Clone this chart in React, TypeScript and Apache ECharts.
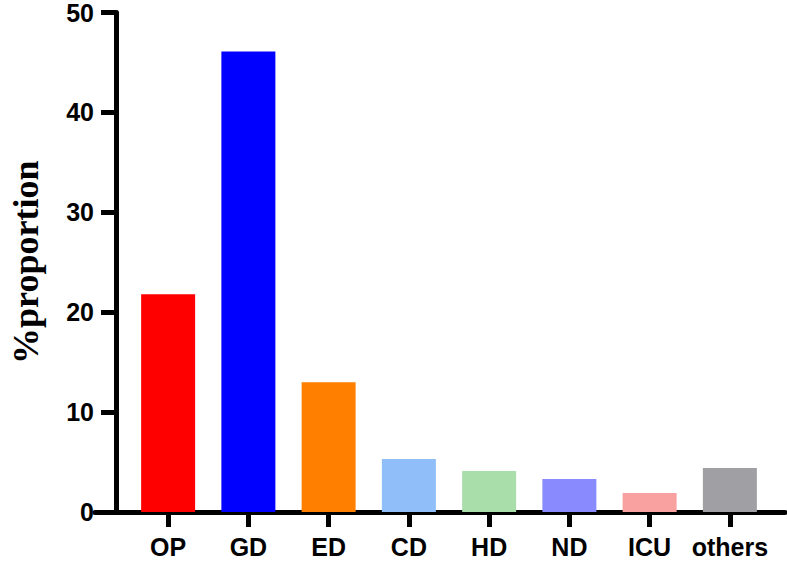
import React, { useEffect, useRef } from "react";
import * as echarts from "echarts";

const categories = ["OP", "GD", "ED", "CD", "HD", "ND", "ICU", "others"];
const values = [21.8, 46.1, 13.0, 5.3, 4.1, 3.3, 1.9, 4.4];
const barColors = ["#FF0000", "#0000FF", "#FF8000", "#8FBEF8", "#A9DEAA", "#8A8AFF", "#F9A1A1", "#A0A0A4"];
const yTicks = { min: 0, max: 50, interval: 10 };

export default function App() {
  const ref = useRef<HTMLDivElement>(null);
  useEffect(() => {
    if (!ref.current) return;
    const chart = echarts.init(ref.current, null, { renderer: "svg" });
    chart.setOption({
      animation: false,
      grid: [
        { left: 122, right: 17, top: 12.5, bottom: 50 },
        { left: 95, right: 2, top: 12.5, bottom: 50 },
      ],
      xAxis: [
        {
          type: "category",
          gridIndex: 0,
          data: categories,
          axisLine: { show: false },
          axisTick: { show: true, alignWithLabel: true, length: 15, lineStyle: { color: "#000", width: 5 } },
          axisLabel: {
            interval: 0,
            hideOverlap: false,
            color: "#000",
            fontFamily: "Liberation Sans, Arial, sans-serif",
            fontWeight: "bold",
            fontSize: 25,
            lineHeight: 25,
            margin: 22,
          },
        },
        {
          type: "value",
          gridIndex: 1,
          min: 0,
          max: 1,
          axisLine: { show: true, lineStyle: { color: "#000", width: 5 } },
          axisTick: { show: false },
          axisLabel: { show: false },
          splitLine: { show: false },
        },
      ],
      yAxis: [
        {
          type: "value",
          gridIndex: 0,
          min: yTicks.min,
          max: yTicks.max,
          interval: yTicks.interval,
          offset: 12,
          name: "%proportion",
          nameLocation: "middle",
          nameGap: 72,
          nameTextStyle: {
            color: "#000",
            fontFamily: "Liberation Serif, Times New Roman, serif",
            fontWeight: "bold",
            fontSize: 36,
          },
          axisLine: { show: true, lineStyle: { color: "#000", width: 5 } },
          axisTick: { show: true, length: 15, lineStyle: { color: "#000", width: 5 } },
          axisLabel: {
            color: "#000",
            fontFamily: "Liberation Sans, Arial, sans-serif",
            fontWeight: "bold",
            fontSize: 25,
            margin: 22,
          },
          splitLine: { show: false },
        },
        { type: "value", gridIndex: 1, show: false },
      ],
      series: [
        {
          type: "bar",
          xAxisIndex: 0,
          yAxisIndex: 0,
          barWidth: 54,
          data: values.map((v, i) => ({ value: v, itemStyle: { color: barColors[i] } })),
        },
      ],
    });
    return () => chart.dispose();
  }, []);
  return <div ref={ref} style={{ width: 787, height: 562, position: "absolute", left: 0, top: 0, background: "#fff" }} />;
}
